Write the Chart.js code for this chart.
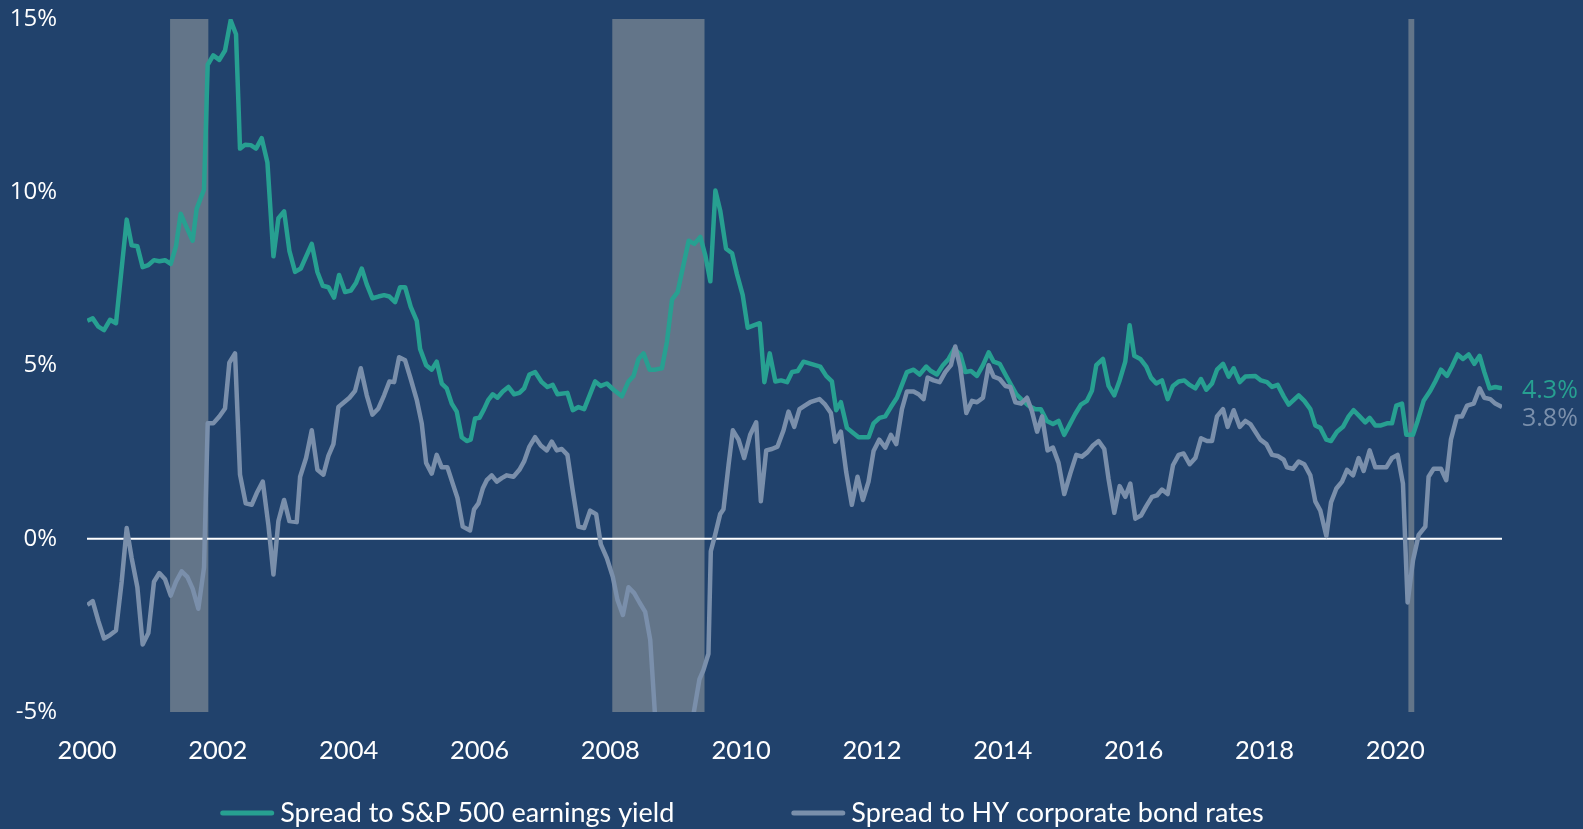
<!DOCTYPE html>
<html>
<head>
<meta charset="utf-8">
<script src="https://cdn.jsdelivr.net/npm/chart.js@4.4.1/dist/chart.umd.min.js"></script>
<style>
  html, body { margin: 0; padding: 0; background: #21426c; }
  canvas { display: block; }
</style>
</head>
<body>
<canvas id="grafico" width="1583" height="829"></canvas>
<script>
// Spread to S&P 500 earnings yield (%)
const earnDates = [
  2000.005, 2000.087, 2000.174, 2000.26, 2000.352, 2000.443, 2000.607, 2000.683, 2000.77, 2000.851,
  2000.938, 2001.024, 2001.106, 2001.193, 2001.28, 2001.36, 2001.432, 2001.524, 2001.615, 2001.676,
  2001.789, 2001.845, 2001.93, 2002.023, 2002.11, 2002.196, 2002.278, 2002.339, 2002.416, 2002.503,
  2002.584, 2002.671, 2002.758, 2002.85, 2002.926, 2003.013, 2003.094, 2003.181, 2003.268, 2003.436,
  2003.522, 2003.604, 2003.69, 2003.777, 2003.853, 2003.945, 2004.032, 2004.114, 2004.2, 2004.277,
  2004.363, 2004.455, 2004.542, 2004.623, 2004.71, 2004.786, 2004.863, 2004.949, 2005.041, 2005.092,
  2005.184, 2005.27, 2005.346, 2005.423, 2005.499, 2005.576, 2005.652, 2005.729, 2005.805, 2005.866,
  2005.932, 2005.999, 2006.07, 2006.136, 2006.203, 2006.274, 2006.356, 2006.442, 2006.529, 2006.61,
  2006.682, 2006.763, 2006.85, 2006.952, 2007.039, 2007.12, 2007.192, 2007.344, 2007.426, 2007.513,
  2007.6, 2007.768, 2007.855, 2007.947, 2008.049, 2008.176, 2008.278, 2008.355, 2008.431, 2008.508,
  2008.6, 2008.687, 2008.789, 2008.866, 2008.943, 2009.029, 2009.111, 2009.198, 2009.284, 2009.376,
  2009.453, 2009.529, 2009.606, 2009.682, 2009.769, 2009.861, 2009.937, 2010.024, 2010.1, 2010.192,
  2010.284, 2010.355, 2010.437, 2010.523, 2010.61, 2010.702, 2010.778, 2010.865, 2010.953, 2011.208,
  2011.3, 2011.387, 2011.453, 2011.525, 2011.617, 2011.708, 2011.795, 2011.948, 2012.024, 2012.116,
  2012.203, 2012.289, 2012.381, 2012.458, 2012.534, 2012.636, 2012.728, 2012.83, 2012.901, 2012.993,
  2013.085, 2013.172, 2013.258, 2013.35, 2013.427, 2013.514, 2013.605, 2013.697, 2013.784, 2013.86,
  2013.952, 2014.039, 2014.115, 2014.207, 2014.309, 2014.396, 2014.498, 2014.58, 2014.674, 2014.766,
  2014.852, 2014.939, 2015.031, 2015.107, 2015.194, 2015.286, 2015.362, 2015.429, 2015.531, 2015.617,
  2015.704, 2015.786, 2015.872, 2015.939, 2016.01, 2016.102, 2016.193, 2016.265, 2016.346, 2016.433,
  2016.52, 2016.601, 2016.688, 2016.774, 2016.856, 2016.943, 2017.029, 2017.111, 2017.198, 2017.274,
  2017.366, 2017.453, 2017.529, 2017.621, 2017.707, 2017.86, 2017.947, 2018.039, 2018.115, 2018.202,
  2018.294, 2018.37, 2018.523, 2018.609, 2018.701, 2018.777, 2018.854, 2018.946, 2019.017, 2019.109,
  2019.2, 2019.287, 2019.363, 2019.455, 2019.541, 2019.608, 2019.694, 2019.781, 2019.873, 2019.949,
  2020.015, 2020.102, 2020.168, 2020.27, 2020.341, 2020.433, 2020.535, 2020.611, 2020.698, 2020.79,
  2020.866, 2020.953, 2021.034, 2021.121, 2021.208, 2021.289, 2021.361, 2021.442, 2021.529, 2021.631
]
const earnSpread = [
  6.29, 6.36, 6.12, 6.02, 6.32, 6.22, 9.21, 8.47, 8.44, 7.84,
  7.90, 8.04, 8.01, 8.04, 7.93, 8.44, 9.38, 8.98, 8.60, 9.52,
  10.08, 13.68, 13.95, 13.82, 14.09, 14.96, 14.56, 11.26, 11.37, 11.36,
  11.26, 11.56, 10.86, 8.15, 9.25, 9.45, 8.31, 7.70, 7.80, 8.51,
  7.70, 7.30, 7.26, 6.96, 7.61, 7.12, 7.16, 7.39, 7.80, 7.34,
  6.94, 6.99, 7.03, 6.99, 6.83, 7.26, 7.26, 6.69, 6.29, 5.48,
  5.01, 4.88, 5.11, 4.48, 4.34, 3.90, 3.67, 2.93, 2.82, 2.86,
  3.47, 3.49, 3.74, 4.01, 4.17, 4.07, 4.25, 4.38, 4.17, 4.21,
  4.34, 4.74, 4.81, 4.52, 4.38, 4.44, 4.17, 4.21, 3.71, 3.80,
  3.74, 4.54, 4.41, 4.48, 4.30, 4.11, 4.54, 4.70, 5.19, 5.35,
  4.88, 4.88, 4.92, 5.69, 6.90, 7.12, 7.84, 8.60, 8.51, 8.71,
  8.17, 7.43, 10.05, 9.45, 8.37, 8.24, 7.63, 7.03, 6.09, 6.16,
  6.22, 4.52, 5.35, 4.54, 4.57, 4.52, 4.81, 4.84, 5.11, 4.97,
  4.70, 4.54, 3.71, 3.94, 3.20, 3.06, 2.93, 2.93, 3.33, 3.49,
  3.53, 3.80, 4.07, 4.44, 4.81, 4.88, 4.74, 4.97, 4.84, 4.74,
  5.01, 5.19, 5.48, 5.32, 4.81, 4.84, 4.70, 5.01, 5.38, 5.11,
  5.05, 4.74, 4.48, 4.17, 3.98, 3.84, 3.74, 3.74, 3.40, 3.31,
  3.40, 3.00, 3.33, 3.60, 3.87, 3.98, 4.27, 5.01, 5.19, 4.41,
  4.14, 4.57, 5.11, 6.16, 5.28, 5.19, 4.97, 4.65, 4.48, 4.57,
  4.03, 4.41, 4.54, 4.57, 4.44, 4.34, 4.61, 4.30, 4.48, 4.88,
  5.05, 4.68, 4.92, 4.52, 4.68, 4.70, 4.57, 4.52, 4.38, 4.44,
  4.11, 3.87, 4.14, 3.98, 3.74, 3.27, 3.20, 2.86, 2.82, 3.09,
  3.23, 3.53, 3.71, 3.53, 3.36, 3.49, 3.27, 3.27, 3.33, 3.33,
  3.84, 3.90, 3.00, 3.00, 3.40, 3.98, 4.27, 4.54, 4.88, 4.70,
  4.97, 5.32, 5.19, 5.32, 5.05, 5.28, 4.81, 4.34, 4.38, 4.34
]

// Spread to HY corporate bond rates (%), values under -5% fall off the chart
const hyDates = [
  2000.005, 2000.087, 2000.174, 2000.26, 2000.352, 2000.443, 2000.53, 2000.607, 2000.683, 2000.77,
  2000.851, 2000.938, 2001.024, 2001.106, 2001.193, 2001.28, 2001.36, 2001.447, 2001.534, 2001.615,
  2001.702, 2001.789, 2001.845, 2001.93, 2002.023, 2002.11, 2002.176, 2002.263, 2002.339, 2002.426,
  2002.518, 2002.595, 2002.687, 2002.774, 2002.85, 2002.926, 2003.013, 2003.094, 2003.206, 2003.258,
  2003.349, 2003.436, 2003.522, 2003.614, 2003.69, 2003.767, 2003.843, 2003.93, 2004.012, 2004.098,
  2004.185, 2004.277, 2004.363, 2004.455, 2004.542, 2004.623, 2004.695, 2004.771, 2004.863, 2004.949,
  2005.041, 2005.117, 2005.184, 2005.27, 2005.346, 2005.423, 2005.51, 2005.591, 2005.663, 2005.744,
  2005.856, 2005.917, 2005.984, 2006.05, 2006.111, 2006.187, 2006.264, 2006.34, 2006.417, 2006.519,
  2006.61, 2006.682, 2006.763, 2006.85, 2006.937, 2007.029, 2007.105, 2007.182, 2007.258, 2007.344,
  2007.426, 2007.513, 2007.6, 2007.691, 2007.783, 2007.855, 2007.947, 2008.038, 2008.11, 2008.192,
  2008.278, 2008.365, 2008.446, 2008.533, 2008.61, 2008.687, 2008.77, 2008.86, 2008.95, 2009.03,
  2009.11, 2009.19, 2009.25, 2009.362, 2009.423, 2009.5, 2009.536, 2009.602, 2009.679, 2009.73,
  2009.807, 2009.873, 2009.96, 2010.046, 2010.138, 2010.23, 2010.301, 2010.383, 2010.47, 2010.556,
  2010.648, 2010.724, 2010.811, 2010.892, 2010.979, 2011.055, 2011.198, 2011.285, 2011.372, 2011.438,
  2011.525, 2011.606, 2011.692, 2011.779, 2011.861, 2011.947, 2012.024, 2012.111, 2012.203, 2012.289,
  2012.371, 2012.458, 2012.534, 2012.636, 2012.713, 2012.789, 2012.85, 2012.942, 2013.034, 2013.12,
  2013.207, 2013.273, 2013.35, 2013.442, 2013.529, 2013.605, 2013.697, 2013.784, 2013.86, 2013.952,
  2014.039, 2014.115, 2014.192, 2014.279, 2014.37, 2014.447, 2014.524, 2014.6, 2014.684, 2014.766,
  2014.852, 2014.939, 2015.031, 2015.123, 2015.209, 2015.296, 2015.378, 2015.464, 2015.551, 2015.617,
  2015.704, 2015.786, 2015.872, 2015.949, 2016.026, 2016.112, 2016.193, 2016.28, 2016.356, 2016.433,
  2016.52, 2016.601, 2016.688, 2016.764, 2016.856, 2016.943, 2017.029, 2017.121, 2017.198, 2017.274,
  2017.366, 2017.437, 2017.529, 2017.621, 2017.707, 2017.784, 2017.86, 2017.937, 2018.029, 2018.115,
  2018.202, 2018.294, 2018.344, 2018.436, 2018.523, 2018.609, 2018.701, 2018.777, 2018.854, 2018.946,
  2019.017, 2019.099, 2019.186, 2019.262, 2019.354, 2019.44, 2019.516, 2019.608, 2019.694, 2019.781,
  2019.862, 2019.949, 2020.035, 2020.117, 2020.188, 2020.27, 2020.357, 2020.459, 2020.509, 2020.586,
  2020.698, 2020.779, 2020.85, 2020.943, 2021.019, 2021.096, 2021.198, 2021.289, 2021.361, 2021.452,
  2021.529, 2021.631
]
const hySpread = [
  -1.91, -1.80, -2.38, -2.88, -2.78, -2.65, -1.24, 0.31, -0.56, -1.40,
  -3.05, -2.72, -1.24, -0.99, -1.17, -1.64, -1.24, -0.94, -1.10, -1.44,
  -2.02, -0.83, 3.33, 3.33, 3.53, 3.76, 5.08, 5.35, 1.85, 1.02,
  0.98, 1.32, 1.65, 0.38, -1.03, 0.51, 1.12, 0.51, 0.48, 1.79,
  2.33, 3.13, 1.99, 1.85, 2.39, 2.73, 3.80, 3.94, 4.07, 4.27,
  4.92, 4.14, 3.58, 3.76, 4.14, 4.54, 4.52, 5.24, 5.15, 4.61,
  4.01, 3.33, 2.19, 1.88, 2.42, 2.06, 2.06, 1.59, 1.18, 0.35,
  0.24, 0.85, 1.02, 1.45, 1.69, 1.83, 1.65, 1.75, 1.83, 1.79,
  1.99, 2.23, 2.66, 2.93, 2.69, 2.55, 2.80, 2.55, 2.59, 2.42,
  1.38, 0.35, 0.31, 0.81, 0.71, -0.16, -0.56, -1.10, -1.77, -2.20,
  -1.40, -1.57, -1.84, -2.11, -2.92, -5.2, -8.5, -11.5, -13.8, -13.0,
  -10.5, -7.5, -5.3, -4.06, -3.79, -3.32, -0.36, 0.11, 0.71, 0.85,
  2.12, 3.13, 2.86, 2.33, 3.00, 3.36, 1.08, 2.55, 2.59, 2.66,
  3.13, 3.67, 3.23, 3.74, 3.85, 3.94, 4.03, 3.87, 3.63, 2.80,
  3.09, 1.92, 0.98, 1.79, 1.12, 1.65, 2.53, 2.86, 2.63, 3.00,
  2.73, 3.74, 4.25, 4.25, 4.17, 4.03, 4.65, 4.57, 4.52, 4.81,
  5.01, 5.55, 4.95, 3.63, 3.98, 3.94, 4.07, 5.01, 4.68, 4.61,
  4.41, 4.38, 3.94, 3.90, 4.07, 3.67, 3.09, 3.53, 2.55, 2.63,
  2.19, 1.29, 1.88, 2.42, 2.37, 2.50, 2.69, 2.82, 2.59, 1.72,
  0.75, 1.52, 1.21, 1.59, 0.58, 0.67, 0.94, 1.21, 1.25, 1.42,
  1.29, 2.12, 2.42, 2.46, 2.15, 2.33, 2.90, 2.82, 2.82, 3.53,
  3.74, 3.23, 3.71, 3.23, 3.40, 3.31, 3.09, 2.86, 2.73, 2.42,
  2.39, 2.28, 2.06, 2.02, 2.23, 2.15, 1.83, 1.08, 0.81, 0.08,
  1.05, 1.45, 1.65, 1.99, 1.83, 2.33, 1.96, 2.55, 2.06, 2.06,
  2.06, 2.33, 2.42, 1.59, -1.84, -0.63, 0.11, 0.35, 1.79, 2.02,
  2.02, 1.69, 2.86, 3.53, 3.53, 3.84, 3.90, 4.34, 4.07, 4.03,
  3.90, 3.80
]

// recessions (start / end, decimal years)
const recessionStart = [2001.27, 2008.03, 2020.2]
const recessionEnd = [2001.855, 2009.44, 2020.29]

const yTicks = [-5, 0, 5, 10, 15]

const fundo = '#21426c'
const verde = '#27a091'
const cinza = '#7a8fab'
const sombra = '#637589'

const serie = (datas, valores) => datas.map((d, i) => ({ x: d, y: valores[i] }))

const pluginFundo = {
    id: 'fundo',
    beforeDraw(chart) {
        const c = chart.ctx
        c.save()
        c.fillStyle = fundo
        c.fillRect(0, 0, chart.width, chart.height)
        c.restore()
    }
}

const pluginRecessao = {
    id: 'recessao',
    beforeDatasetsDraw(chart) {
        const { ctx: c, chartArea: a, scales: { x, y } } = chart
        c.save()
        c.fillStyle = sombra
        recessionStart.forEach((s, i) => {
            const x0 = x.getPixelForValue(s)
            const x1 = x.getPixelForValue(recessionEnd[i])
            c.fillRect(x0, a.top, x1 - x0, a.bottom - a.top)
        })
        // zero line
        const y0 = y.getPixelForValue(0)
        c.strokeStyle = '#ffffff'
        c.lineWidth = 2
        c.beginPath()
        c.moveTo(a.left, y0)
        c.lineTo(a.right, y0)
        c.stroke()
        c.restore()
    }
}

const pluginRotulos = {
    id: 'rotulos',
    afterDatasetsDraw(chart) {
        const { ctx: c, chartArea: a, scales: { y } } = chart
        const lastEarn = earnSpread[earnSpread.length - 1]
        const lastHy = hySpread[hySpread.length - 1]
        const yEarn = y.getPixelForValue(lastEarn) + 3
        const yHy = Math.max(y.getPixelForValue(lastHy) + 12, yEarn + 27)
        c.save()
        c.font = '25px "Open Sans"'
        c.textAlign = 'left'
        c.textBaseline = 'middle'
        c.fillStyle = verde
        c.fillText(lastEarn.toFixed(1) + '%', a.right + 20, yEarn)
        c.fillStyle = cinza
        c.fillText(lastHy.toFixed(1) + '%', a.right + 20, yHy)
        c.restore()
    }
}

const pluginLegenda = {
    id: 'legenda',
    afterDraw(chart) {
        const c = chart.ctx
        const itens = [chart.data.datasets[1], chart.data.datasets[0]]
        c.save()
        c.font = '27px Lato'
        c.textBaseline = 'middle'
        const amostra = 54, espaco = 6, entre = 117
        const larguras = itens.map(d => c.measureText(d.label).width)
        const total = larguras.reduce((s, w) => s + w + amostra + espaco, 0) + entre
        let cx = 742 - total / 2
        const cy = 813
        itens.forEach((d, i) => {
            c.strokeStyle = d.borderColor
            c.lineWidth = 5
            c.lineCap = 'round'
            c.beginPath()
            c.moveTo(cx + 2.5, cy)
            c.lineTo(cx + amostra - 2.5, cy)
            c.stroke()
            c.fillStyle = '#ffffff'
            c.fillText(d.label, cx + amostra + espaco, cy)
            cx += amostra + espaco + larguras[i] + entre
        })
        c.restore()
    }
}

const config = {
    type: 'line',
    data: {
        datasets: [
            {
                label: 'Spread to HY corporate bond rates',
                data: serie(hyDates, hySpread),
                borderColor: cinza,
                backgroundColor: cinza,
                borderWidth: 4.5,
                pointRadius: 0,
                borderJoinStyle: 'round',
                tension: 0
            },
            {
                label: 'Spread to S&P 500 earnings yield',
                data: serie(earnDates, earnSpread),
                borderColor: verde,
                backgroundColor: verde,
                borderWidth: 4.5,
                pointRadius: 0,
                borderJoinStyle: 'round',
                tension: 0
            }
        ]
    },
    options: {
        responsive: false,
        animation: false,
        devicePixelRatio: 1,
        layout: { padding: { top: 19, right: 81, left: 0, bottom: 0 } },
        plugins: {
            legend: { display: false },
            tooltip: { enabled: false }
        },
        scales: {
            x: {
                type: 'linear',
                min: 2000,
                max: earnDates[earnDates.length - 1],
                afterFit: s => { s.height = 117; s.paddingLeft = 0; s.paddingRight = 0 },
                grid: { display: false, drawTicks: false },
                border: { display: false },
                ticks: {
                    stepSize: 2,
                    includeBounds: false,
                    autoSkip: false,
                    maxRotation: 0,
                    padding: 23,
                    color: '#ffffff',
                    font: { family: 'Lato', size: 25.5 },
                    callback: v => (v % 2 === 0 ? String(v) : '')
                }
            },
            y: {
                min: -5,
                max: 15,
                afterFit: s => { s.width = 87; s.paddingTop = 0; s.paddingBottom = 0 },
                afterBuildTicks: s => { s.ticks = yTicks.map(v => ({ value: v })) },
                grid: { display: false, drawTicks: false },
                border: { display: false },
                ticks: {
                    padding: 30,
                    color: '#ffffff',
                    font: { family: 'Open Sans', size: 24 },
                    callback: v => v + '%'
                }
            }
        }
    },
    plugins: [pluginFundo, pluginRecessao, pluginRotulos, pluginLegenda]
}

const grafico = new Chart(document.querySelector('#grafico'), config)
</script>
</body>
</html>
